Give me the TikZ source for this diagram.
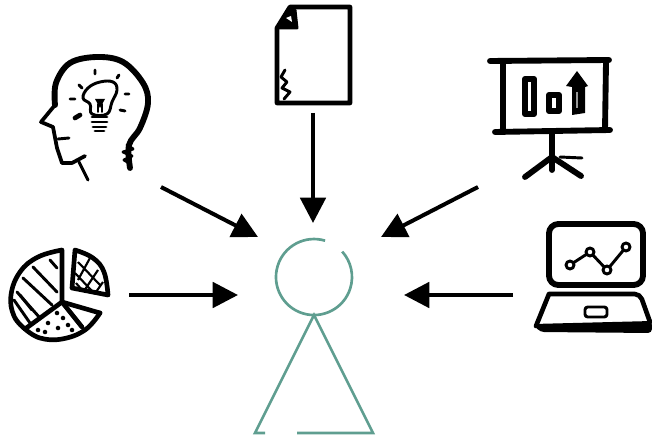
\documentclass[tikz,border=0pt]{standalone}
\usepackage{tikz}
\usetikzlibrary{arrows.meta}
\definecolor{personteal}{HTML}{5F9E90}
\tikzstyle{arrow} = [line width=3pt, -{Triangle[length=19pt,width=19pt]}]
\tikzstyle{ink} = [line width=3.5pt, line cap=round, line join=round, black]
\tikzstyle{heavy ink} = [line width=4.4pt, line cap=round, line join=round, black]
\tikzstyle{thin ink} = [line width=2.2pt, line cap=round, line join=round, black]
\tikzstyle{person} = [line width=2pt, personteal]

\begin{document}
\begin{tikzpicture}[x=0.75pt, y=-0.75pt]
\useasboundingbox (0,0) rectangle (652,438);

% Anchors
\coordinate (brainout) at (161,187);
\coordinate (brainin) at (258,237);
\coordinate (docout) at (313,113);
\coordinate (docin) at (313,223);
\coordinate (boardout) at (478,187);
\coordinate (boardin) at (381,237);
\coordinate (pieout) at (129,295);
\coordinate (piein) at (238,295);
\coordinate (laptopout) at (513,295);
\coordinate (laptopin) at (404,295);

% Head with bulb
\draw [heavy ink] plot [smooth, tension=0.6] coordinates {(130,168) (129,145) (140,128) (148,103) (143,83) (123,62) (97,57) (70,63) (56,83) (55,105)};
\draw [thin ink, line width=2.8pt] (55,105) -- (41,122) -- (53,127) -- (57,148) -- (62,163) -- (72,163) -- (85,156);
\draw [thin ink] (58,139) -- (69,138);
\draw [thin ink] (79,162) -- (88,180);
\draw [thin ink] (127,145) -- (133,149) -- (123,152) -- (132,156) -- (124,160) -- (131,164);
\draw [thin ink] plot [smooth cycle, tension=0.7] coordinates {(92,114) (90,104) (83,98) (88,88) (100,82) (113,82) (117,90) (112,102) (107,114)};
\draw [thin ink] (92,117) -- (107,117) (92,122) -- (107,122) (93,127) -- (106,127) (95,131) -- (104,131);
\draw [thin ink, line width=1.2pt] (98,104) -- (98,112) (102,104) -- (102,112);
\fill (95,99) -- (105,99) -- (100,108) -- cycle;
\draw [thin ink] (95,70) -- (95,74) (79,85) -- (82,88) (119,75) -- (117,78) (70,99) -- (75,99);
\draw [thin ink] (125,94) -- (129,94) (120,110) -- (125,111);
\draw [ink] (75,118) -- (80,115);

% Pie chart
\draw [ink] plot [smooth, tension=0.7] coordinates {(25,329) (14,316) (11,295) (20,272) (38,257) (62,250)} -- (62,302) -- cycle;
\draw [ink] (62,302) -- (82,327);
\draw [ink] plot [smooth, tension=0.7] coordinates {(100,313) (85,330) (62,339) (40,338) (25,329)};
\draw [ink] (62,302) -- (100,313);
\draw [ink] plot [smooth, tension=0.7] coordinates {(75,250) (93,258) (104,272) (108,295)} -- (72,288) -- cycle;
\draw [thin ink] (50,260) -- (57,268) (33,267) -- (57,292) (23,278) -- (52,305) (17,292) -- (40,318);
\draw [thin ink] (14,300) -- (30,323) (20,295) -- (32,310);
\draw [line width=1.6pt] (78,262) -- (100,285) (75,273) -- (92,291) (76,283) -- (82,290) (90,258) -- (78,280) (98,270) -- (84,291) (103,282) -- (96,292);
\foreach \dotx/\doty in {48/323, 58/328, 57/313, 68/325, 38/330, 45/332, 72/330, 63/318}
  \fill (\dotx,\doty) circle (1.7pt);

% Document
\draw [ink] (290,7) -- (350,7) -- (350,103) -- (277,103) -- (277,28) -- cycle;
\draw [thin ink] (277,28) -- (297,28) -- (295,10);
\fill (290,7) -- (296,10) -- (297,28) -- (276,28) -- cycle;
\fill [white] (286,18) -- (291,16) -- (292,22) -- cycle;
\draw [thin ink] (285,70) -- (281,77) -- (287,82) -- (282,88) -- (290,92) -- (284,99);

% Presentation board
\draw [heavy ink] (490,61) -- (609,60);
\draw [heavy ink] (503,62) -- (503,132);
\draw [heavy ink] (606,62) -- (605,130);
\draw [heavy ink] (495,132) -- (610,130);
\draw [heavy ink] (552,132) -- (552,170);
\draw [heavy ink] (552,157) -- (525,177);
\draw [heavy ink] (552,157) -- (581,176);
\draw [thin ink] (560,157) -- (582,158);
\draw [heavy ink] (525,79) rectangle (534,114);
\draw [heavy ink] (549,95) rectangle (559,111);
\fill (566,86) -- (577,71) -- (588,86) -- (585,87) -- (585,113) -- (572,115) -- (572,87) -- cycle;
\draw [line width=1pt, white!60!black] (577,92) -- (577,108);

% Laptop
\draw [heavy ink, rounded corners=7pt] (549,224) rectangle (643,285);
\draw [thin ink] (570,265) -- (590,252) -- (607,270) -- (626,247);
\foreach \markx/\marky in {570/265, 590/252, 607/270, 626/247}
  \draw [thin ink, fill=white] (\markx,\marky) circle (3pt);
\draw [ink, rounded corners=4pt] (549,294) -- (640,294) -- (650,322) (549,294) -- (536,326);
\fill [rounded corners=3pt] (533,324) -- (652,321) -- (652,333) -- (540,332) -- cycle;
\draw [thin ink, rounded corners=2pt] (585,307) rectangle (607,317);

% Person
\draw [person] (325.1,240.7) arc [start angle=73, end angle=402, radius=28.5pt];
\draw [person] (265,433) -- (255,433) -- (314,315) -- (373,433) -- (297,433);

% Connections
\draw [arrow] (brainout) -- (brainin);
\draw [arrow] (docout) -- (docin);
\draw [arrow] (boardout) -- (boardin);
\draw [arrow] (pieout) -- (piein);
\draw [arrow] (laptopout) -- (laptopin);

\end{tikzpicture}
\end{document}
